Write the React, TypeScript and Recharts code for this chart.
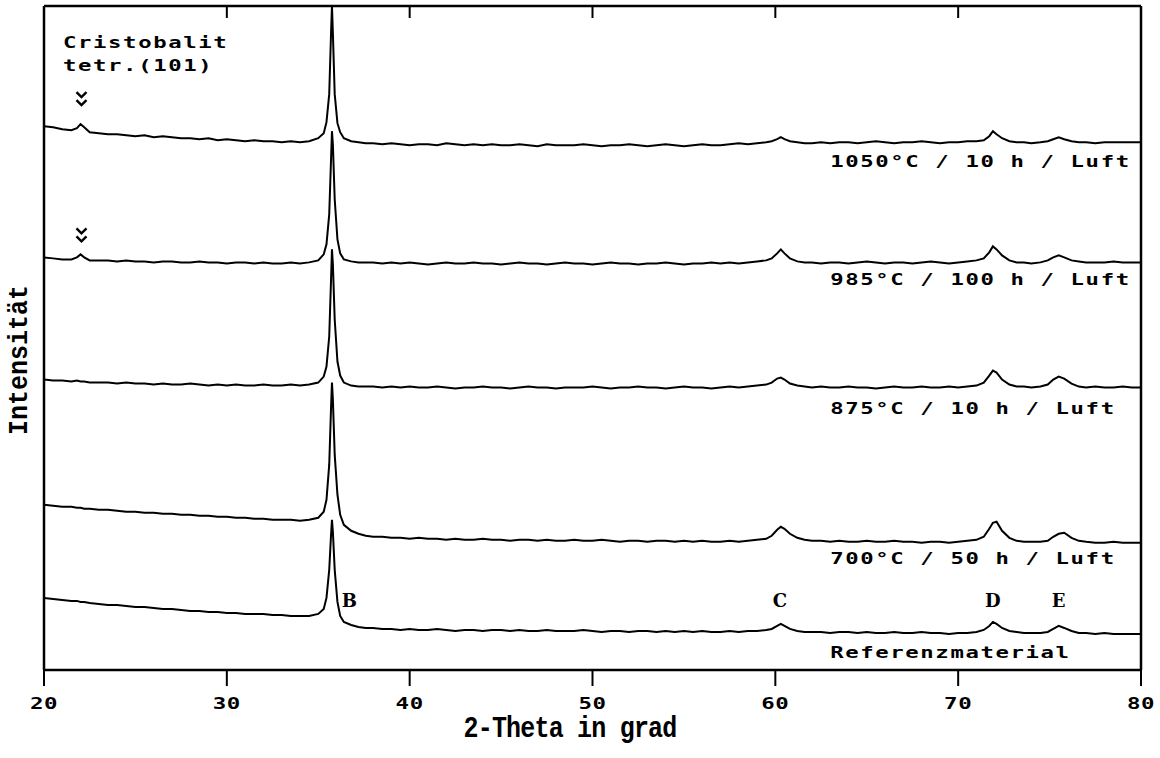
import React from 'react'
import { LineChart, Line, XAxis, YAxis, ReferenceDot } from 'recharts'

// 2-theta grid (degrees), denser around the reflections
const theta = [
  20, 20.5, 21, 21.5, 21.8, 22, 22.2, 22.5,
  23, 23.5, 24, 24.5, 25, 25.5, 26, 26.5, 27, 27.5, 28, 28.5,
  29, 29.5, 30, 30.5, 31, 31.5, 32, 32.5, 33, 33.5, 34, 34.5,
  35, 35.3, 35.45, 35.6, 35.7, 35.75, 35.8, 35.9, 36.05, 36.2, 36.4, 36.8, 37.2, 37.6,
  38, 38.5, 39, 39.5, 40, 40.5, 41, 41.5, 42, 42.5, 43,
  43.5, 44, 44.5, 45, 45.5, 46, 46.5, 47, 47.5, 48, 48.5,
  49, 49.5, 50, 50.5, 51, 51.5, 52, 52.5, 53, 53.5, 54,
  54.5, 55, 55.5, 56, 56.5, 57, 57.5, 58, 58.5, 59, 59.5,
  59.8, 60.1, 60.3, 60.5, 60.8, 61.2, 61.6,
  62, 62.5, 63, 63.5, 64, 64.5, 65, 65.5, 66, 66.5,
  67, 67.5, 68, 68.5, 69, 69.5, 70, 70.5, 71,
  71.4, 71.7, 71.9, 72.1, 72.4, 72.8, 73.2, 73.6,
  74, 74.5,
  74.9, 75.2, 75.5, 75.8, 76.2, 76.6,
  77, 77.5, 78, 78.5, 79, 79.5, 80,
]

// stacked intensities (arbitrary units, offset per curve)
const i1050 = [
  543, 542, 540, 539, 541, 545, 542, 537,
  536, 535, 535, 534, 533, 534, 532, 533, 532, 531, 531, 530,
  531, 529, 530, 529, 528, 529, 528, 528, 527, 528, 527, 528,
  531, 536, 547, 575, 636, 663, 636, 575, 546, 537, 531, 528, 527, 526,
  526, 525, 526, 525, 524, 525, 525, 524, 526, 525, 524,
  525, 524, 525, 524, 524, 525, 524, 523, 525, 524, 524,
  524, 525, 524, 523, 524, 524, 525, 524, 523, 524, 525,
  524, 523, 524, 525, 524, 524, 525, 526, 525, 526, 527,
  528, 530, 532, 530, 528, 527, 526,
  526, 527, 526, 527, 527, 526, 527, 528, 527, 526,
  527, 527, 528, 527, 526, 527, 527, 528, 528,
  529, 533, 538, 535, 531, 528, 527, 527,
  526, 527,
  528, 530, 532, 530, 528, 527,
  527, 526, 527, 527, 527, 527, 527,
]

const i985 = [
  412, 411, 410, 410, 412, 415, 412, 409,
  409, 409, 408, 409, 408, 408, 407, 408, 408, 407, 407, 408,
  407, 407, 406, 407, 407, 406, 407, 406, 406, 407, 406, 407,
  409, 415, 425, 455, 510, 538, 525, 470, 430, 416, 410, 408, 407, 407,
  407, 406, 407, 406, 407, 406, 405, 406, 407, 406, 406,
  407, 406, 406, 405, 406, 407, 406, 406, 405, 406, 407,
  406, 406, 405, 406, 407, 406, 406, 405, 406, 406, 407,
  406, 405, 406, 406, 407, 406, 407, 406, 407, 408, 409,
  411, 416, 420, 416, 411, 408, 407,
  407, 406, 407, 407, 406, 407, 408, 407, 406, 407,
  407, 406, 407, 408, 407, 406, 407, 408, 409,
  411, 417, 423, 420, 414, 409, 407, 407,
  406, 407,
  409, 412, 414, 412, 409, 408,
  407, 407, 407, 408, 407, 407, 407,
]

const i875 = [
  290, 289, 289, 288, 289, 288, 288, 287,
  287, 287, 286, 287, 286, 286, 285, 286, 285, 285, 286, 285,
  284, 285, 284, 285, 284, 284, 285, 284, 284, 285, 284, 285,
  287, 293, 303, 333, 390, 420, 405, 350, 308, 294, 287, 284, 283, 283,
  283, 282, 283, 282, 283, 282, 282, 283, 282, 281, 282,
  282, 283, 282, 282, 281, 282, 283, 282, 282, 281, 282,
  282, 282, 283, 282, 281, 282, 282, 283, 282, 282, 281,
  282, 283, 282, 282, 281, 282, 283, 282, 283, 284, 285,
  287, 291, 292, 290, 286, 284, 283,
  282, 283, 282, 282, 283, 282, 282, 281, 282, 283,
  282, 282, 283, 282, 282, 283, 282, 283, 284,
  287, 294, 299, 297, 290, 285, 283, 283,
  282, 283,
  285, 290, 293, 291, 286, 283,
  282, 283, 282, 282, 283, 282, 282,
]

const i700 = [
  165, 164, 163, 163, 162, 162, 161, 161,
  160, 160, 159, 158, 158, 157, 157, 156, 156, 155, 155, 154,
  154, 153, 153, 152, 152, 151, 151, 150, 150, 150, 149, 150,
  152, 158, 170, 205, 262, 287, 270, 215, 175, 155, 145, 139, 136, 134,
  133, 133, 132, 132, 131, 132, 131, 131, 130, 131, 130,
  130, 131, 130, 130, 129, 130, 130, 129, 130, 129, 129,
  130, 129, 129, 130, 129, 128, 129, 129, 128, 129, 129,
  128, 129, 128, 129, 128, 128, 129, 128, 129, 130, 131,
  134, 140, 143, 141, 136, 132, 130,
  129, 129, 128, 129, 128, 128, 129, 128, 128, 129,
  128, 128, 127, 128, 128, 127, 128, 129, 130,
  133, 141, 147, 148, 139, 132, 129, 128,
  128, 128,
  129, 133, 136, 137, 132, 129,
  128, 127, 127, 128, 127, 127, 127,
]

const iRef = [
  72, 71, 70, 69, 69, 68, 68, 67,
  66, 65, 65, 64, 63, 63, 62, 61, 61, 60, 59, 59,
  58, 58, 57, 57, 56, 56, 56, 55, 55, 54, 54, 54,
  56, 61, 72, 100, 135, 150, 138, 100, 68, 54, 48, 45, 43, 42,
  42, 41, 41, 40, 41, 40, 40, 41, 40, 39, 40,
  40, 39, 40, 40, 39, 40, 39, 39, 40, 39, 39,
  39, 40, 39, 38, 39, 39, 38, 39, 39, 38, 39,
  38, 39, 38, 39, 38, 38, 39, 38, 39, 39, 40,
  41, 44, 46, 44, 41, 39, 38,
  38, 38, 37, 38, 38, 37, 38, 37, 37, 38,
  37, 37, 38, 37, 37, 36, 37, 37, 38,
  40, 44, 48, 46, 42, 39, 38, 37,
  37, 37,
  38, 41, 44, 42, 39, 37,
  37, 36, 37, 36, 36, 36, 36,
]

const curveNames = ['1050°C / 10 h / Luft', '985°C / 100 h / Luft', '875°C / 10 h / Luft', '700°C / 50 h / Luft', 'Referenzmaterial']
const curveLabelTheta = 63.0
const curveLabelLevel = [502, 384, 256, 106, 12]

const peakNames = ['B', 'C', 'D', 'E']
const peakTheta = [36.7, 60.25, 71.9, 75.5]
const peakLabelLevel = 63

const cristoLines = ['Cristobalit', 'tetr.(101)']
const cristoTheta = 21.04
const cristoLevel = [621, 598]
const cristoMarkTheta = 22.05
const cristoMarkLevel = [570, 434]

const xTicks = [20, 30, 40, 50, 60, 70, 80]
const topTicks = [30, 40, 50, 60, 70]

const data = theta.map((t, i) => ({
  theta: t,
  s1050: i1050[i],
  s985: i985[i],
  s875: i875[i],
  s700: i700[i],
  sRef: iRef[i],
}))

const seriesKeys = ['s1050', 's985', 's875', 's700', 'sRef']

const MONO = "'DejaVu Sans Mono', monospace"
const SERIF_MONO = "'Liberation Mono', monospace"

const MonoTick = ({ x, y, payload }: any) => (
  <g transform={`translate(${x},${y})`}>
    <text
      transform="scale(1.4,1)"
      textAnchor="middle"
      dy="0.71em"
      fontFamily={MONO}
      fontSize={16}
      fontWeight={700}
      letterSpacing={0.4}
      fill="#000"
    >
      {payload.value}
    </text>
  </g>
)

const NoTick = () => <g />

const monoText = (text: string) => (props: any) => (
  <g transform={`translate(${props.cx},${props.cy})`}>
    <text
      transform="scale(1.35,1)"
      fontFamily={MONO}
      fontSize={16.5}
      fontWeight={700}
      letterSpacing={1.2}
      fill="#000"
    >
      {text}
    </text>
  </g>
)

const serifLetter = (text: string) => (props: any) => (
  <text
    x={props.cx}
    y={props.cy}
    textAnchor="middle"
    fontFamily="'DejaVu Serif', serif"
    fontSize={18}
    fontWeight={700}
    fill="#000"
  >
    {text}
  </text>
)

const Chevrons = (props: any) => {
  const { cx, cy } = props
  return (
    <path
      d={`M${cx - 5},${cy - 7} L${cx},${cy - 2} L${cx + 5},${cy - 7} M${cx - 5},${cy + 1} L${cx},${cy + 6} L${cx + 5},${cy + 1}`}
      fill="none"
      stroke="#000"
      strokeWidth={2.4}
    />
  )
}

export default function App() {
  const axisStroke = { stroke: '#000', strokeWidth: 2.5 }
  const tickStroke = { stroke: '#000', strokeWidth: 2 }
  return (
    <div style={{ position: 'absolute', left: 0, top: 0, width: 1160, height: 758, background: '#fff' }}>
      <LineChart width={1160} height={758} data={data} margin={{ top: 6, right: 18, bottom: 0, left: 43 }}>
        <XAxis
          xAxisId="b"
          dataKey="theta"
          type="number"
          domain={[20, 80]}
          ticks={xTicks}
          allowDataOverflow
          height={88}
          tickSize={16}
          tickMargin={12}
          axisLine={axisStroke}
          tickLine={tickStroke}
          tick={<MonoTick />}
        />
        <XAxis
          xAxisId="t"
          orientation="top"
          dataKey="theta"
          type="number"
          domain={[20, 80]}
          ticks={topTicks}
          height={1}
          mirror
          tickSize={12}
          tick={<NoTick />}
          axisLine={axisStroke}
          tickLine={tickStroke}
        />
        <YAxis yAxisId="l" type="number" domain={[0, 663]} width={1} tick={false} tickLine={false} axisLine={axisStroke} />
        <YAxis
          yAxisId="r"
          orientation="right"
          type="number"
          domain={[0, 663]}
          width={1}
          tick={false}
          tickLine={false}
          axisLine={axisStroke}
        />
        {seriesKeys.map((k) => (
          <Line
            key={k}
            xAxisId="b"
            yAxisId="l"
            type="linear"
            dataKey={k}
            stroke="#000"
            strokeWidth={2}
            dot={false}
            isAnimationActive={false}
          />
        ))}
        {curveNames.map((name, i) => (
          <ReferenceDot
            key={name}
            xAxisId="b"
            yAxisId="l"
            x={curveLabelTheta}
            y={curveLabelLevel[i]}
            r={0}
            shape={monoText(name)}
          />
        ))}
        {peakNames.map((name, i) => (
          <ReferenceDot
            key={name}
            xAxisId="b"
            yAxisId="l"
            x={peakTheta[i]}
            y={peakLabelLevel}
            r={0}
            shape={serifLetter(name)}
          />
        ))}
        {cristoLines.map((line, i) => (
          <ReferenceDot
            key={line}
            xAxisId="b"
            yAxisId="l"
            x={cristoTheta}
            y={cristoLevel[i]}
            r={0}
            shape={monoText(line)}
          />
        ))}
        {cristoMarkLevel.map((lvl) => (
          <ReferenceDot key={lvl} xAxisId="b" yAxisId="l" x={cristoMarkTheta} y={lvl} r={0} shape={Chevrons} />
        ))}
      </LineChart>
      <svg width={1160} height={758} style={{ position: 'absolute', left: 0, top: 0, pointerEvents: 'none' }}>
        <text
          transform="translate(570,737) scale(1,1.15)"
          textAnchor="middle"
          fontFamily={SERIF_MONO}
          fontWeight={700}
          fontSize={25}
          letterSpacing={-0.8}
          fill="#000"
        >
          2-Theta in grad
        </text>
        <text
          transform="translate(27,360) rotate(-90) scale(1,1.1)"
          textAnchor="middle"
          fontFamily={SERIF_MONO}
          fontWeight={700}
          fontSize={25}
          fill="#000"
        >
          Intensität
        </text>
      </svg>
    </div>
  )
}
